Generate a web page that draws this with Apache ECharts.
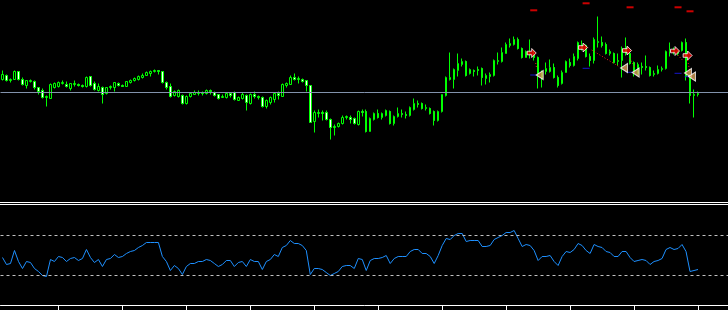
<!DOCTYPE html>
<html><head><meta charset="utf-8">
<script src="https://cdn.jsdelivr.net/npm/echarts@6/dist/echarts.min.js"></script>
<style>html,body{margin:0;padding:0;background:#000;overflow:hidden}#c{width:728px;height:310px;}</style>
</head><body><div id="c"></div>
<script>
// ---- data (prices in chart units) ----
const slots = 182; // bar slots on the time axis (175 filled, rest is empty space on the right)
const categories = Array.from({length: slots}, (_, i) => 'Bar ' + (i + 1));

const openP = [
121,125,120,121,129,121,115,119,119,113,
110,103,102,113,114,117,116,112,116,116,
115,114,124,117,110,113,107,113,113,117,
115,114,118,120,121,123,125,127,129,130,
129,118,114,105,104,105,97,104,106,107,
108,107,110,108,106,103,103,107,108,100,
102,105,97,106,104,103,94,98,101,107,
104,115,116,123,121,121,120,115,79,87,
88,88,81,73,74,77,83,83,82,76,
89,89,69,81,87,83,85,89,77,84,
87,86,85,91,97,97,92,92,89,80,
89,105,121,121,130,136,139,127,130,131,
132,122,124,125,139,139,147,155,156,161,
152,143,147,146,143,122,129,129,133,123,
117,128,138,135,142,153,155,144,140,158,
158,156,147,147,139,140,153,147,138,127,
134,134,133,126,127,131,132,149,150,149,
150,158,124,105,106];
const closeP = [
126,120,121,129,121,116,120,120,113,109,
103,104,116,117,118,118,114,117,117,115,
114,123,115,111,114,106,113,114,118,115,
114,119,120,122,124,125,128,129,130,129,
118,113,104,109,110,97,104,107,108,108,
107,110,109,105,102,104,107,105,101,103,
106,98,106,104,103,94,100,103,107,105,
116,117,123,121,122,119,115,78,88,88,
87,81,73,74,77,83,84,81,77,89,
88,69,82,87,83,87,90,77,84,87,
86,85,93,97,96,92,93,87,80,89,
106,123,123,131,137,139,125,131,129,130,
123,125,126,140,140,148,156,157,161,152,
143,149,146,143,127,129,132,133,123,115,
128,139,135,144,158,156,144,140,161,159,
155,147,149,138,140,152,147,137,128,136,
133,133,125,127,131,132,149,150,149,147,
158,124,105,106,107];
const highP = [
130,126,122,130,129,123,120,121,120,113,
112,105,117,118,119,120,119,117,120,117,
116,124,124,119,117,114,113,115,118,118,
116,119,121,123,125,127,129,130,131,130,
129,119,117,110,111,106,105,108,110,110,
109,111,111,109,106,106,108,108,109,104,
108,106,107,109,105,104,101,104,108,109,
117,118,125,127,124,122,120,115,90,91,
90,90,82,76,78,85,85,85,83,90,
91,91,83,88,91,88,91,90,85,93,
91,89,94,102,100,98,96,93,90,90,
106,124,148,132,147,142,140,132,131,134,
133,127,128,141,148,153,158,162,164,163,
153,150,161,150,144,130,138,141,137,125,
130,140,142,147,159,160,156,147,163,184,
164,158,151,148,147,154,163,148,139,138,
138,145,134,130,135,134,150,158,153,150,
159,162,126,111,109];
const lowP = [
120,119,118,121,120,115,112,118,111,106,
102,94,102,112,113,116,113,110,114,114,
113,113,114,110,109,97,106,111,109,114,
114,114,117,119,120,122,125,124,128,126,
117,111,103,104,103,96,96,103,106,105,
105,106,106,104,101,103,102,103,100,100,
101,90,96,102,101,93,92,96,98,101,
104,113,116,120,117,118,109,78,68,83,
80,80,61,65,73,76,81,77,76,75,
84,68,69,80,82,81,84,76,75,83,
83,82,84,90,93,91,90,86,75,79,
88,104,120,112,124,134,124,126,124,125,
115,116,118,124,136,138,147,153,155,151,
142,143,142,140,112,113,126,128,122,113,
116,128,133,134,140,150,143,134,137,153,
153,146,145,137,135,123,145,136,124,125,
126,130,124,124,126,129,131,144,146,145,
149,120,97,83,104];

const rsi = [
48,41,42,55,44,37,44,43,37,34,
30,29,46,44,49,48,44,47,48,45,
47,56,48,43,46,39,46,47,51,48,
49,52,54,55,58,60,63,63,63,63,
49,44,35,40,37,31,39,42,42,44,
44,46,45,42,39,41,45,45,39,43,
44,39,46,44,44,36,44,46,51,49,
58,60,65,62,62,60,55,31,37,37,
36,33,30,32,34,39,40,40,37,47,
46,35,45,47,47,48,50,42,47,49,
49,49,54,56,56,52,52,49,42,50,
60,67,66,70,72,72,64,65,65,65,
59,59,60,66,68,70,73,73,75,67,
59,61,60,55,45,49,49,50,44,40,
49,54,53,56,62,60,55,52,61,59,
58,54,53,49,49,54,54,48,44,45,
46,45,41,44,45,47,56,58,56,57,
61,54,34,35,36];

const levelPrice = 108;
const rsiLevels = [70, 30];

// signal marks: [bar position, price]
const sellArrows = [[132.4,147.5],[145.25,153],[156.25,150],[168.25,149.5],[171.4,145]];
const exitTriangles = [[134.4,125.5],[155.5,132.5],[158.4,128],[171.5,127.5],[172.5,124]];
const topDashes = [[132.9,190.2],[146,197.2],[157,193.2],[169,193.2],[172,189.2]];
const blueDashes = [[132.9,125.5],[146,132.2],[157,128.2],[169,127.2],[171.5,123.8]];
const trail1 = [[147.4,150.5],[154.4,133.5]];
const trail2 = [[156.9,142.5],[158.1,133.5]];
const trail3 = [[168.9,145.5],[170.1,140.5]];
const trail4 = [[171.4,140.5],[172.1,125.5]];
const trail5 = [[133.4,137.5],[133.6,132.5]];

// ---- chart ----
const candles = openP.map((o, i) => [o, closeP[i], lowP[i], highP[i]]);
const chart = echarts.init(document.getElementById('c'), null, {renderer: 'canvas'});
const trailSeries = [trail1, trail2, trail3, trail4, trail5].map(t => ({
  type: 'line', xAxisIndex: 2, yAxisIndex: 0, data: t, showSymbol: false, silent: true,
  lineStyle: {color: '#ff2020', width: 1, type: [1, 2]}, z: 4
}));
chart.setOption({
  backgroundColor: '#000000',
  animation: false,
  grid: [
    {left: 0.5, top: 0.5, width: 728, height: 202},
    {left: 0.5, top: 205.5, width: 728, height: 101}
  ],
  xAxis: [
    {type: 'category', gridIndex: 0, data: categories, boundaryGap: true,
     axisLine: {show: false}, axisTick: {show: false}, axisLabel: {show: false}, splitLine: {show: false}},
    {type: 'category', gridIndex: 1, data: categories, boundaryGap: true,
     axisLine: {show: true, lineStyle: {color: '#ffffff', width: 1}},
     axisTick: {show: true, alignWithLabel: true, length: 5, interval: (i) => i % 16 === 14, lineStyle: {color: '#ffffff', width: 1}},
     axisLabel: {show: false}, splitLine: {show: false}},
    {type: 'value', gridIndex: 0, min: -0.5, max: slots - 0.5, show: false}
  ],
  yAxis: [
    {type: 'value', gridIndex: 0, min: -2, max: 200, show: false},
    {type: 'value', gridIndex: 1, min: -1, max: 100, show: false}
  ],
  graphic: [
    {type: 'rect', shape: {x: 0, y: 202, width: 728, height: 1}, style: {fill: '#ffffff'}, silent: true},
    {type: 'rect', shape: {x: 0, y: 204, width: 728, height: 1}, style: {fill: '#ffffff'}, silent: true}
  ],
  series: [
    {type: 'candlestick', xAxisIndex: 0, yAxisIndex: 0, data: candles, barWidth: 2,
     itemStyle: {color: '#000000', color0: '#ffffff', borderColor: '#00ff00', borderColor0: '#00ff00', borderColorDoji: '#00ff00', borderWidth: 1},
     markLine: {silent: true, symbol: 'none', label: {show: false},
       lineStyle: {color: '#8292AC', width: 1, type: 'solid'},
       data: [{yAxis: levelPrice}]}},
    {type: 'line', xAxisIndex: 1, yAxisIndex: 1, data: rsi, showSymbol: false, silent: true,
     lineStyle: {color: '#1E90FF', width: 1},
     markLine: {silent: true, symbol: 'none', label: {show: false},
       lineStyle: {color: '#C0C0C0', width: 1, type: [3, 3]},
       data: rsiLevels.map(v => ({yAxis: v}))}},
    ...trailSeries,
    {type: 'scatter', xAxisIndex: 2, yAxisIndex: 0, data: topDashes, symbol: 'rect', symbolSize: [7, 2],
     itemStyle: {color: '#ff0000'}, silent: true, z: 5},
    {type: 'scatter', xAxisIndex: 2, yAxisIndex: 0, data: blueDashes, symbol: 'rect', symbolSize: [7, 1],
     itemStyle: {color: '#1a1aff'}, silent: true, z: 5},
    {type: 'scatter', xAxisIndex: 2, yAxisIndex: 0, data: exitTriangles,
     symbol: 'path://M10,0L0,5L10,10Z', symbolSize: [7, 9],
     itemStyle: {color: '#D9A15A', borderColor: '#ffffff', borderWidth: 1}, silent: true, z: 6},
    {type: 'scatter', xAxisIndex: 2, yAxisIndex: 0, data: sellArrows,
     symbol: 'path://M0,3L5,3L5,0L10,5L5,10L5,7L0,7Z', symbolSize: [9, 9],
     itemStyle: {color: '#ff0000', borderColor: '#ffffff', borderWidth: 1}, silent: true, z: 7}
  ]
});
</script>
</body></html>
